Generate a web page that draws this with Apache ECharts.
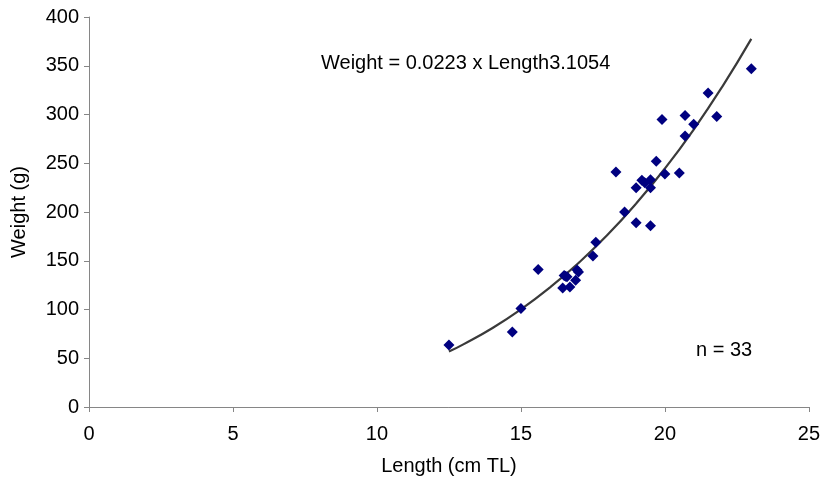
<!DOCTYPE html>
<html>
<head>
<meta charset="utf-8">
<script src="https://cdn.jsdelivr.net/npm/echarts@6/dist/echarts.min.js"></script>
<style>
html,body{margin:0;padding:0;background:#fff;}
#chart{width:823px;height:486px;}
</style>
</head>
<body>
<div id="chart"></div>
<script>
// Observed fish: length (cm TL) and weight (g)
const lengths = [12.5, 14.7, 15.0, 15.6, 16.5, 16.6, 17.0, 16.95, 16.9, 16.45, 16.7, 17.5,
  16.55, 17.6, 18.6, 19.0, 19.5, 19.0, 19.5, 19.2, 19.5, 18.3, 20.0, 20.5, 19.7,
  20.7, 21.0, 19.9, 20.7, 21.8, 21.5, 23.0, 19.3];
const weights = [63.5, 77, 101, 141, 135, 133.5, 138.5, 140.5, 130, 122, 123, 155,
  134, 169, 200, 189, 186, 225, 225, 232.5, 233, 241, 239, 240, 252,
  278, 290, 295, 299, 298, 322, 347, 230];
// Power trendline values
const trendLengths = [12.5, 13, 14, 15, 16, 17, 18, 19, 20, 21, 22, 23];
const trendWeights = [56.8, 64.2, 80.8, 100.1, 122.4, 147.7, 176.3, 208.6, 244.6, 284.6, 328.9, 377.6];
const xTicks = [0, 5, 10, 15, 20, 25];
const yTicks = [0, 50, 100, 150, 200, 250, 300, 350, 400];

const font = 'Liberation Sans, Arial, sans-serif';
const fs = 20;
const chart = echarts.init(document.getElementById('chart'), null, {renderer: 'canvas'});
const axisCommon = {
  axisLine: {show: true, onZero: false, lineStyle: {color: '#868686', width: 1}},
  axisTick: {show: true, length: 5, lineStyle: {color: '#868686'}},
  splitLine: {show: false},
  nameTextStyle: {fontFamily: font, fontSize: fs, color: '#000'},
  axisLabel: {fontFamily: font, fontSize: fs, color: '#000'}
};
chart.setOption({
  animation: false,
  backgroundColor: '#fff',
  grid: {left: 89, right: 12, top: 17, bottom: 79, containLabel: false},
  xAxis: Object.assign({}, axisCommon, {
    type: 'value', min: xTicks[0], max: xTicks[xTicks.length - 1], interval: 5,
    name: 'Length (cm TL)', nameLocation: 'middle', nameGap: 49,
    axisLabel: Object.assign({}, axisCommon.axisLabel, {margin: 17})
  }),
  yAxis: Object.assign({}, axisCommon, {
    type: 'value', min: yTicks[0], max: yTicks[yTicks.length - 1], interval: 50,
    name: 'Weight (g)', nameLocation: 'middle', nameGap: 60, nameRotate: 90,
    axisLabel: Object.assign({}, axisCommon.axisLabel, {margin: 10})
  }),
  series: [
    {
      type: 'line', data: trendLengths.map((l, i) => [l, trendWeights[i]]),
      smooth: true, showSymbol: false, symbol: 'none',
      lineStyle: {color: '#3a3a3a', width: 2.2}, z: 2
    },
    {
      type: 'scatter', data: lengths.map((l, i) => [l, weights[i]]),
      symbol: 'diamond', symbolSize: 11,
      itemStyle: {color: '#000080', opacity: 1}, z: 3
    }
  ],
  graphic: [
    {type: 'text', left: 321, top: 53, style: {text: 'Weight = 0.0223 x Length3.1054', font: fs + 'px ' + font, fill: '#000'}},
    {type: 'text', left: 696, top: 340, style: {text: 'n = 33', font: fs + 'px ' + font, fill: '#000'}}
  ]
});
</script>
</body>
</html>
